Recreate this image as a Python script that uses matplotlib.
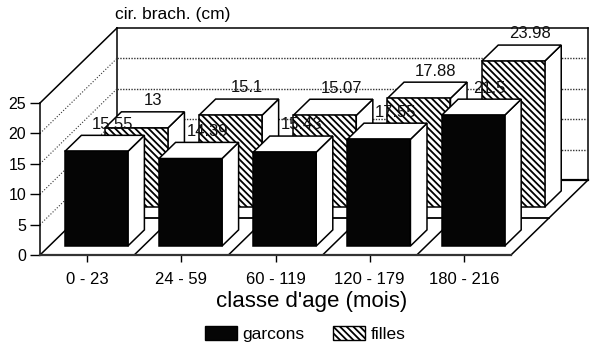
import matplotlib
matplotlib.use("Agg")
from matplotlib import pyplot as plt
from matplotlib.patches import Polygon, Patch

plt.rcParams['font.family'] = ['Liberation Sans', 'DejaVu Sans']
plt.rcParams['hatch.linewidth'] = 1.3

classes = ["0 - 23", "24 - 59", "60 - 119", "120 - 179", "180 - 216"]
garcons = [15.55, 14.39, 15.43, 17.55, 21.5]
filles = [13, 15.1, 15.07, 17.88, 23.98]
yticks = [0, 5, 10, 15, 20, 25]

W, H = 600, 351
# one depth unit moves a point this far in data coordinates
DX = 77 / 94.2
DY = 75 / 6.08
BAR_W = 63 / 94.2


def proj(x, v, d):
    return (x + d * DX, v + d * DY)


def poly(ax, pts, fc="white", z=2, lw=1.1, **kw):
    ax.add_patch(Polygon(pts, closed=True, facecolor=fc, edgecolor="black",
                         linewidth=lw, zorder=z, clip_on=False, **kw))


def line(ax, a, b, z=1, lw=1.0, ls="-", color="black"):
    ax.plot([a[0], b[0]], [a[1], b[1]], color=color, linewidth=lw, linestyle=ls,
            zorder=z, clip_on=False)


def bar3d(ax, x, val, d0, d1, fc, hatch, z):
    left = x - BAR_W / 2
    right = x + BAR_W / 2
    # side and top first, then front face
    poly(ax, [proj(right, 0, d0), proj(right, 0, d1), proj(right, val, d1), proj(right, val, d0)], z=z)
    poly(ax, [proj(left, val, d0), proj(right, val, d0), proj(right, val, d1), proj(left, val, d1)], z=z)
    poly(ax, [proj(left, 0, d0), proj(right, 0, d0), proj(right, val, d0), proj(left, val, d0)],
         fc=fc, z=z, hatch=hatch)
    px, py = proj(x, val, d1)
    ax.annotate(f"{val:g}", (px, py), xytext=(0, 8), textcoords="offset points",
                ha="center", va="center", fontsize=12, zorder=z + 0.5, color="#111111",
                annotation_clip=False)


fig = plt.figure(figsize=(W / 100, H / 100), dpi=100)
ax = fig.add_axes([40 / W, 1 - 255 / H, 471 / W, 152 / H])
ax.patch.set_visible(False)
ax.set_xlim(-0.5, 4.5)
ax.set_ylim(0, 25)

# walls
line(ax, proj(-0.5, 25, 0), proj(-0.5, 25, 1), lw=1.1)
line(ax, proj(-0.5, 25, 1), proj(4.5, 25, 1), lw=1.1)
line(ax, proj(-0.5, 0, 1), proj(-0.5, 25, 1), lw=1.1)
line(ax, proj(4.5, 0, 1), proj(4.5, 25, 1), lw=1.1)
line(ax, proj(-0.5, 0, 1), proj(4.5, 0, 1), lw=1.6)
for t in yticks[1:-1]:
    line(ax, proj(-0.5, t, 0), proj(-0.5, t, 1), lw=0.8, ls=":", color="#333333")
    line(ax, proj(-0.5, t, 1), proj(4.5, t, 1), lw=1.0, ls=(0, (1, 1)), color="#333333")

# floor
for i in range(6):
    line(ax, proj(i - 0.5, 0, 0), proj(i - 0.5, 0, 1), lw=1.1)
line(ax, proj(-0.5, 0, 0.49), proj(4.5, 0, 0.49), lw=1.3)

for i in range(5):
    bar3d(ax, i, filles[i], 0.64, 0.855, "white", "\\\\\\\\\\", 3 + i * 0.01)
for i in range(5):
    bar3d(ax, i, garcons[i], 0.12, 0.335, "#050505", None, 5 + i * 0.01)

for s in ["top", "right"]:
    ax.spines[s].set_visible(False)
ax.spines["left"].set_linewidth(1.1)
ax.spines["bottom"].set_linewidth(1.6)
ax.spines["bottom"].set_color("#333333")
ax.set_yticks(yticks)
ax.set_xticks(range(5))
ax.set_xticklabels(classes)
ax.tick_params(axis="y", length=7, width=1.0, pad=3, labelsize=11.5)
ax.tick_params(axis="x", length=5, width=1.0, pad=7, labelsize=12)

fig.text(173 / W, 1 - 14 / H, "cir. brach. (cm)", ha="center", va="center", fontsize=12.5)
fig.text(312 / W, 1 - 301 / H, "classe d'age (mois)", ha="center", va="center", fontsize=16)

handles = [Patch(facecolor="#050505", edgecolor="black", label="garcons"),
           Patch(facecolor="white", edgecolor="black", hatch="\\\\\\\\\\", label="filles")]
fig.legend(handles=handles, loc="center", bbox_to_anchor=(305.5 / W, 1 - 334 / H), ncol=2,
           frameon=False, fontsize=12.5, handlelength=1.8, handleheight=0.9,
           handletextpad=0.35, columnspacing=1.65, borderpad=0, borderaxespad=0)

plt.savefig("out.png", dpi=100)
